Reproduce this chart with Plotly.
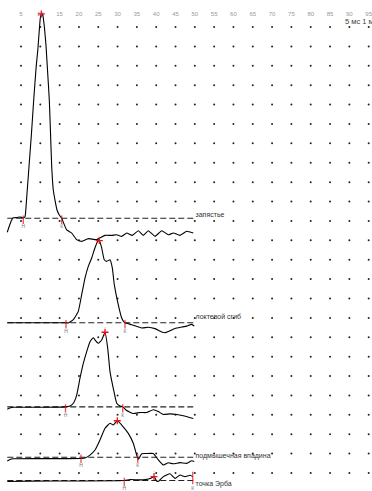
import plotly.graph_objects as go

# ---------------- data ----------------
tick_ms = [5, 10, 15, 20, 25, 30, 35, 40, 45, 50, 55, 60, 65, 70, 75, 80, 85, 90, 95]
tick_labels = ["5", "10", "15", "20", "25", "30", "35", "40", "45", "50",
               "55", "60", "65", "70", "75", "80", "85", "90", "95"]
scale_label = "5 мс 1 мВ"

site_names = ["запястье", "локтевой сгиб", "", "подмышечная впадина", "точка Эрба"]

# trace 1 - wrist
t1_ms = [1.45, 1.89, 2.59, 2.93, 3.97, 4.74, 5.60, 6.04, 6.43, 7.07, 7.72, 8.29, 8.94, 9.35,
         9.74, 10.00, 10.26, 10.62, 11.08, 11.47, 11.86, 12.33, 12.64, 12.95, 13.36, 13.80,
         14.32, 14.92, 15.54, 16.83, 18.13, 19.42, 20.71, 22.42, 24.60, 26.75, 28.48, 29.78,
         31.07, 32.36, 33.81, 35.37, 36.66, 37.95, 39.69, 41.42, 43.13, 44.43, 46.16, 47.90,
         49.60]
t1_mv = [-0.72, -0.45, -0.09, 0.02, 0.04, 0.07, 0.02, 0.08, 0.94, 2.66, 4.40, 6.10, 7.85, 8.68,
         9.71, 10.33, 10.54, 10.49, 9.81, 8.92, 7.65, 6.10, 4.40, 2.66, 1.46, 0.94,
         0.43, 0.17, 0.00, -0.60, -0.76, -1.10, -1.19, -1.05, -1.10, -0.88, -0.88, -0.85,
         -0.93, -0.76, -0.88, -0.64, -0.88, -0.64, -0.93, -0.64, -0.85, -0.76, -0.88, -0.67,
         -0.76]

# trace 2 - elbow
t2_ms = [1.45, 16.65, 17.25, 18.54, 19.83, 20.71, 21.57, 22.42, 23.30, 23.98, 24.86, 25.27,
         25.89, 26.56, 27.19, 28.04, 28.64, 29.15, 30.19, 31.07, 31.66, 31.92, 33.66, 36.25,
         37.95, 39.69, 41.42, 42.28, 43.13, 44.87, 46.60, 47.90, 49.19, 49.86]
t2_mv = [0.00, 0.00, -0.01, 0.16, 0.59, 1.45, 2.31, 2.91, 3.34, 3.77, 4.20, 4.24,
         3.86, 3.25, 3.17, 3.25, 2.83, 1.97, 0.93, 0.25, 0.04, 0.00, -0.10, -0.27,
         -0.23, -0.30, -0.47, -0.51, -0.45, -0.29, -0.22, -0.17, -0.08, -0.17]

# trace 3
t3_ms = [1.45, 2.15, 3.01, 9.92, 16.52, 17.69, 18.54, 19.42, 20.27, 21.13, 22.01, 22.86,
         23.72, 24.34, 25.01, 25.89, 26.75, 27.45, 28.04, 28.89, 29.78, 30.63, 31.33, 32.36,
         34.07, 35.81, 37.54, 39.25, 40.54, 41.84, 43.57, 45.31, 47.02, 49.60]
t3_mv = [-0.12, -0.06, -0.02, -0.02, 0.00, 0.05, 0.19, 0.61, 1.48, 2.25, 2.85, 3.36,
         3.57, 3.40, 3.28, 3.45, 3.85, 3.02, 1.82, 0.96, 0.19, 0.05, 0.00, -0.19,
         -0.34, -0.29, -0.29, -0.15, -0.24, -0.39, -0.36, -0.39, -0.46, -0.60]

# trace 4 - axilla
t4_ms = [1.45, 2.15, 3.01, 20.53, 21.57, 22.86, 24.16, 25.45, 26.75, 28.04, 28.89, 29.93,
         31.07, 32.78, 34.07, 34.95, 35.37, 36.25, 37.54, 39.25, 40.54, 41.84, 43.13, 44.43,
         46.16, 47.90, 49.19, 49.86]
t4_mv = [-0.20, -0.12, -0.08, -0.07, -0.04, 0.11, 0.37, 0.89, 1.49, 1.75, 1.66, 1.88,
         1.66, 1.23, 0.72, 0.11, -0.12, 0.18, 0.19, 0.19, -0.14, -0.40, -0.29, -0.34,
         -0.28, -0.32, -0.18, -0.22]

# trace 5 - Erb's point
t5_ms = [1.45, 7.33, 31.74, 33.22, 35.81, 37.54, 38.40, 39.43, 40.13, 40.54, 41.84, 43.57,
         44.87, 46.16, 47.46, 48.75, 49.45]
t5_mv = [-0.05, -0.03, 0.00, 0.05, 0.03, 0.06, 0.10, 0.20, -0.03, -0.05, 0.20, 0.35,
         0.11, 0.28, 0.20, 0.27, 0.20]

onset_ms = [5.60, 16.65, 16.52, 20.53, 31.74]
end_ms = [15.54, 31.92, 31.33, 35.21, 49.45]
peak_ms = [10.26, 25.27, 26.75, 29.93, 39.43]
peak_mv = [10.54, 4.24, 3.85, 1.88, 0.20]

# ---------------- layout constants ----------------
W, H = 372, 491
PX_X = 3.863      # px per ms
PX_Y = 19.39      # px per mV (division)
X0 = -1.68 / PX_X
Y_TOP = 473 / PX_Y
X_RANGE = [X0, X0 + W / PX_X]
Y_RANGE = [Y_TOP - H / PX_Y, Y_TOP]


def ypx(p):
    return (473 - p) / PX_Y


def xpx(p):
    return (p - 1.68) / PX_X


BASE = [ypx(218.3), ypx(322.8), ypx(406.9), ypx(457.2), ypx(480.5)]
LABEL_Y = [ypx(215), ypx(317.3), ypx(407), ypx(456.7), ypx(484.5)]
DASH_X = [1.45, 49.9]
PX = 1 / PX_Y

traces_ms = [t1_ms, t2_ms, t3_ms, t4_ms, t5_ms]
traces_mv = [t1_mv, t2_mv, t3_mv, t4_mv, t5_mv]

fig = go.Figure()

# dot grid
gx, gy = [], []
for yv in range(0, 24):
    for xv in tick_ms:
        gx.append(xv)
        gy.append(yv)
fig.add_trace(go.Scatter(x=gx, y=gy, mode="markers", hoverinfo="skip",
                         marker=dict(size=2, color="#222", line=dict(width=0))))

# tick labels on top
fig.add_trace(go.Scatter(x=tick_ms, y=[ypx(14)] * len(tick_ms), mode="text",
                         text=tick_labels, textposition="middle center",
                         textfont=dict(size=6, color="#999999", family="Liberation Sans")))

fig.add_trace(go.Scatter(x=[xpx(345)], y=[ypx(21.7)], mode="text", text=[scale_label],
                         textposition="middle right", cliponaxis=True,
                         textfont=dict(size=7.5, color="#444", family="Liberation Sans")))

for i in range(5):
    b = BASE[i]
    # dashed baseline
    fig.add_trace(go.Scatter(x=DASH_X, y=[b, b], mode="lines", hoverinfo="skip",
                             line=dict(color="#222", width=1.1, dash="6px,3px")))
    # waveform
    fig.add_trace(go.Scatter(x=traces_ms[i], y=[b + v for v in traces_mv[i]], mode="lines",
                             line=dict(color="black", width=1.1, shape="spline",
                                       smoothing=0.4)))
    # onset / end ticks
    tick_sz = [6, 9] if i == 4 else [6, 6]
    fig.add_trace(go.Scatter(x=[onset_ms[i], end_ms[i]],
                             y=[b - 1.5 * PX, b - (1.5 if i < 4 else -2.5) * PX],
                             mode="markers", hoverinfo="skip",
                             marker=dict(symbol="line-ns", size=tick_sz,
                                         line=dict(color="#e8141c", width=1.4))))
    fig.add_trace(go.Scatter(x=[onset_ms[i], end_ms[i]], y=[b - 8.5 * PX] * 2,
                             mode="text", text=["Н", "К"], textposition="middle center",
                             textfont=dict(size=5, color="#777", family="Liberation Sans")))
    # peak marker
    fig.add_trace(go.Scatter(x=[peak_ms[i]], y=[b + peak_mv[i]], mode="markers",
                             hoverinfo="skip",
                             marker=dict(symbol="cross-thin", size=5,
                                         line=dict(color="#e8141c", width=1.3))))
    if i >= 2:
        fig.add_trace(go.Scatter(x=[peak_ms[i]], y=[b + peak_mv[i] + 5 * PX], mode="text",
                                 text=["-"], textposition="middle center",
                                 textfont=dict(size=5, color="#999")))
    # site label
    if site_names[i]:
        fig.add_trace(go.Scatter(x=[xpx(195.5)], y=[LABEL_Y[i]], mode="text",
                                 text=[site_names[i]], textposition="middle right",
                                 textfont=dict(size=7, color="#333",
                                               family="Liberation Sans")))

fig.update_layout(
    width=W, height=H, margin=dict(l=0, r=0, t=0, b=0),
    paper_bgcolor="white", plot_bgcolor="white", showlegend=False,
    xaxis=dict(range=X_RANGE, visible=False, fixedrange=True),
    yaxis=dict(range=Y_RANGE, visible=False, fixedrange=True),
)

fig.write_html("out.html", config={"displayModeBar": False},
               post_script="document.body.style.margin='0px';"
                           "document.body.style.overflow='hidden';")
